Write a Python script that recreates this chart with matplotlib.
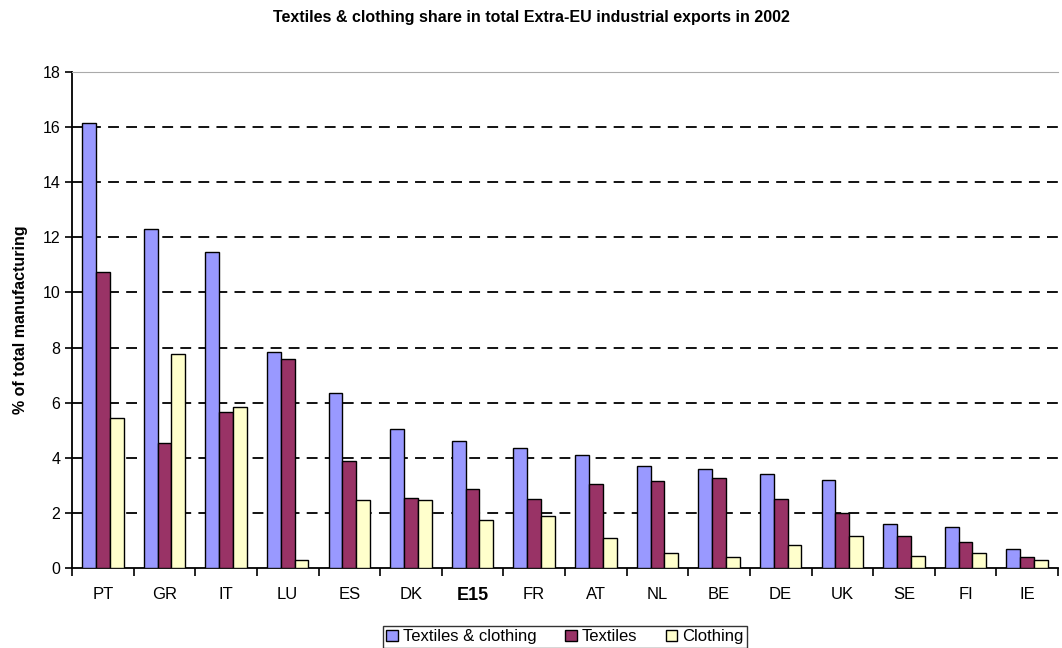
import numpy as np
import matplotlib
matplotlib.use("Agg")
import matplotlib.pyplot as plt

plt.rcParams['font.family'] = ['Liberation Sans', 'DejaVu Sans']

countries = ['PT', 'GR', 'IT', 'LU', 'ES', 'DK', 'E15', 'FR', 'AT', 'NL', 'BE', 'DE', 'UK', 'SE', 'FI', 'IE']
tex_cloth = [16.15, 12.3, 11.45, 7.85, 6.35, 5.05, 4.6, 4.35, 4.1, 3.7, 3.6, 3.4, 3.2, 1.6, 1.5, 0.7]
textiles = [10.75, 4.55, 5.65, 7.6, 3.9, 2.55, 2.85, 2.5, 3.05, 3.15, 3.25, 2.5, 2.0, 1.15, 0.95, 0.4]
clothing = [5.45, 7.75, 5.85, 0.3, 2.45, 2.45, 1.75, 1.9, 1.1, 0.55, 0.4, 0.85, 1.15, 0.45, 0.55, 0.3]

fig = plt.figure(figsize=(10.62, 6.48), dpi=100)
ax = fig.add_axes([72/1062, 1-568/648, 986/1062, 496/648])

x = np.arange(len(countries))
w = 0.225
ax.bar(x - w, tex_cloth, w, color='#9999FF', edgecolor='black', lw=1, label='Textiles & clothing', zorder=3)
ax.bar(x, textiles, w, color='#993366', edgecolor='black', lw=1, label='Textiles', zorder=3)
ax.bar(x + w, clothing, w, color='#FFFFCC', edgecolor='black', lw=1, label='Clothing', zorder=3)

ax.set_xlim(-0.5, len(countries) - 0.5)
ax.set_ylim(0, 18)
ax.set_yticks(np.arange(0, 19, 2))
for y in range(2, 18, 2):
    ax.axhline(y, color='black', lw=1.3, ls=(0, (6, 4)), zorder=1)

ax.set_xticks(x)
ax.set_xticklabels(countries, fontsize=12)
ax.set_xticks(np.arange(-0.5, len(countries), 1), minor=True)
ax.tick_params(axis='x', which='major', length=0, pad=14)
ax.tick_params(axis='x', which='minor', length=6, width=1.2, direction='out')
ax.tick_params(axis='y', length=5, width=1.2, direction='out', labelsize=11.5)
for lbl in ax.get_xticklabels():
    if lbl.get_text() == 'E15':
        lbl.set_fontweight('bold')
        lbl.set_fontsize(13)

for s in ['left', 'bottom']:
    ax.spines[s].set_linewidth(1.3)
ax.spines['right'].set_visible(False)
ax.spines['top'].set_color('#aaaaaa')
ax.spines['top'].set_linewidth(0.8)

ax.set_ylabel('% of total manufacturing', fontsize=11.5, fontweight='bold', labelpad=10)
fig.suptitle('Textiles & clothing share in total Extra-EU industrial exports in 2002',
             fontsize=11.5, fontweight='bold', y=0.985)

leg = ax.legend(loc='upper center', bbox_to_anchor=(0.5, -0.1), ncol=3, frameon=True,
                fancybox=False, edgecolor='black', fontsize=12, handlelength=0.7,
                handleheight=0.7, handletextpad=0.3, columnspacing=1.7, borderpad=0.2)
leg.get_frame().set_linewidth(1)

fig.savefig('out.png', dpi=100)
